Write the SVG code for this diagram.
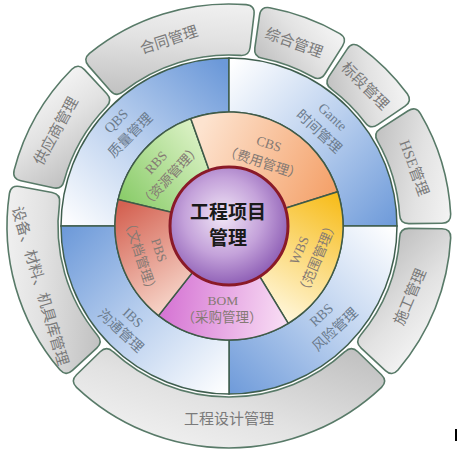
<svg xmlns="http://www.w3.org/2000/svg" width="457" height="450" viewBox="0 0 457 450">
<defs>
<linearGradient id="gGray" x1="0" y1="1" x2="1" y2="0">
<stop offset="0" stop-color="#bdbdbd"/><stop offset="0.55" stop-color="#e2e2e2"/><stop offset="1" stop-color="#f7f7f7"/>
</linearGradient>
<linearGradient id="bQ" gradientUnits="userSpaceOnUse" x1="80" y1="240" x2="230" y2="70">
<stop offset="0" stop-color="#ffffff"/><stop offset="0.5" stop-color="#b9cfee"/><stop offset="1" stop-color="#6c99d9"/>
</linearGradient>
<linearGradient id="bG" gradientUnits="userSpaceOnUse" x1="215" y1="80" x2="385" y2="240">
<stop offset="0" stop-color="#ffffff"/><stop offset="0.5" stop-color="#b9cfee"/><stop offset="1" stop-color="#6c99d9"/>
</linearGradient>
<linearGradient id="bR" gradientUnits="userSpaceOnUse" x1="380" y1="215" x2="215" y2="385">
<stop offset="0" stop-color="#ffffff"/><stop offset="0.5" stop-color="#b9cfee"/><stop offset="1" stop-color="#6c99d9"/>
</linearGradient>
<linearGradient id="bI" gradientUnits="userSpaceOnUse" x1="240" y1="380" x2="75" y2="215">
<stop offset="0" stop-color="#ffffff"/><stop offset="0.5" stop-color="#b9cfee"/><stop offset="1" stop-color="#6c99d9"/>
</linearGradient>
<linearGradient id="cGreen" gradientUnits="userSpaceOnUse" x1="125" y1="200" x2="205" y2="135">
<stop offset="0" stop-color="#8ccd6c"/><stop offset="1" stop-color="#dcf2c6"/>
</linearGradient>
<linearGradient id="cOrange" gradientUnits="userSpaceOnUse" x1="200" y1="130" x2="335" y2="195">
<stop offset="0" stop-color="#fde3cf"/><stop offset="1" stop-color="#f4a068"/>
</linearGradient>
<linearGradient id="cYellow" gradientUnits="userSpaceOnUse" x1="335" y1="190" x2="265" y2="310">
<stop offset="0" stop-color="#f7bb16"/><stop offset="1" stop-color="#fff7dc"/>
</linearGradient>
<linearGradient id="cPink" gradientUnits="userSpaceOnUse" x1="285" y1="315" x2="165" y2="300">
<stop offset="0" stop-color="#f8dcf4"/><stop offset="1" stop-color="#d676d4"/>
</linearGradient>
<linearGradient id="cRed" gradientUnits="userSpaceOnUse" x1="185" y1="300" x2="122" y2="205">
<stop offset="0" stop-color="#f7d6ca"/><stop offset="1" stop-color="#d46252"/>
</linearGradient>
<radialGradient id="cPurple" cx="0.45" cy="0.42" r="0.6">
<stop offset="0" stop-color="#f1e6f6"/><stop offset="0.55" stop-color="#c4a2da"/><stop offset="1" stop-color="#8c5cb4"/>
</radialGradient>
</defs>
<style>
.og{fill:url(#gGray);stroke:#587a68;stroke-width:1.6}
.bl{stroke:#3f5e4e;stroke-width:1.5}
.in{stroke:#3f5a48;stroke-width:1.5}
.t{font-family:"Liberation Serif","Noto Sans CJK SC",serif;text-anchor:middle}
.to{font-size:15px;fill:#7a7a7a}
.tb{font-size:14px;fill:#6c7c8e}
.ti{font-size:13.5px;fill:#857a74}
.tc{font-family:"Noto Sans CJK SC",sans-serif;font-size:19px;font-weight:bold;fill:#1a1a1a;text-anchor:middle}
</style>
<rect width="457" height="450" fill="#ffffff"/>

<g id="outer-ring">
<g id="n-hetong">
<path class="og" transform="translate(229,226) rotate(-17.25)" d="M -82.01,-206.30 A 222 222 0 0 1 82.01,-206.30 Q 90.30,-202.81 86.64,-194.59 L 73.21,-164.44 Q 69.55,-156.22 61.22,-159.66 A 171 171 0 0 0 -61.22,-159.66 Q -69.55,-156.22 -73.21,-164.44 L -86.64,-194.59 Q -90.30,-202.81 -82.01,-206.30 Z"/>
<text class="t to" transform="translate(169,40) rotate(-18)" y="5">合同管理</text>
</g>
<g id="n-zonghe">
<path class="og" transform="translate(229,226) rotate(20.25)" d="M -37.33,-218.84 A 222 222 0 0 1 37.33,-218.84 Q 46.16,-217.15 44.28,-208.35 L 37.42,-176.07 Q 35.55,-167.26 26.69,-168.90 A 171 171 0 0 0 -26.69,-168.90 Q -35.55,-167.26 -37.42,-176.07 L -44.28,-208.35 Q -46.16,-217.15 -37.33,-218.84 Z"/>
<text class="t to" transform="translate(294,43) rotate(20)" y="5">综合管理</text>
</g>
<g id="n-biaoduan">
<path class="og" transform="translate(229,226) rotate(44.75)" d="M -33.50,-219.46 A 222 222 0 0 1 33.50,-219.46 Q 42.36,-217.92 40.64,-209.09 L 34.35,-176.69 Q 32.63,-167.86 23.74,-169.34 A 171 171 0 0 0 -23.74,-169.34 Q -32.63,-167.86 -34.35,-176.69 L -40.64,-209.09 Q -42.36,-217.92 -33.50,-219.46 Z"/>
<text class="t to" transform="translate(365,86) rotate(45)" y="5">标段管理</text>
</g>
<g id="n-hse">
<path class="og" transform="translate(229,226) rotate(73.25)" d="M -52.50,-215.70 A 222 222 0 0 1 52.50,-215.70 Q 61.19,-213.40 58.71,-204.75 L 49.62,-173.03 Q 47.13,-164.38 38.41,-166.63 A 171 171 0 0 0 -38.41,-166.63 Q -47.13,-164.38 -49.62,-173.03 L -58.71,-204.75 Q -61.19,-213.40 -52.50,-215.70 Z"/>
<text class="t to" transform="translate(414,168) rotate(70)" y="5">HSE管理</text>
</g>
<g id="n-shigong">
<path class="og" transform="translate(229,226) rotate(111.75)" d="M -71.10,-210.31 A 222 222 0 0 1 71.10,-210.31 Q 79.56,-207.25 76.33,-198.85 L 64.51,-168.04 Q 61.28,-159.64 52.79,-162.65 A 171 171 0 0 0 -52.79,-162.65 Q -61.28,-159.64 -64.51,-168.04 L -76.33,-198.85 Q -79.56,-207.25 -71.10,-210.31 Z"/>
<text class="t to" transform="translate(410,297) rotate(-67)" y="5">施工管理</text>
</g>
<g id="n-sheji">
<path class="og" transform="translate(229,226) rotate(180)" d="M -152.48,-161.35 A 222 222 0 0 1 152.48,-161.35 Q 158.89,-155.05 152.44,-148.76 L 128.83,-125.72 Q 122.38,-119.43 115.92,-125.71 A 171 171 0 0 0 -115.92,-125.71 Q -122.38,-119.43 -128.83,-125.72 L -152.44,-148.76 Q -158.89,-155.05 -152.48,-161.35 Z"/>
<text class="t to" x="229" y="424">工程设计管理</text>
</g>
<g id="n-shebei">
<path class="og" transform="translate(229,226) rotate(254)" d="M -91.64,-202.20 A 222 222 0 0 1 91.64,-202.20 Q 99.75,-198.33 95.71,-190.29 L 80.88,-160.81 Q 76.83,-152.77 68.68,-156.60 A 171 171 0 0 0 -68.68,-156.60 Q -76.83,-152.77 -80.88,-160.81 L -95.71,-190.29 Q -99.75,-198.33 -91.64,-202.20 Z"/>
<text class="t to" transform="translate(40,286) rotate(73.5)" y="5">设备、材料、机具库管理</text>
</g>
<g id="n-gongying">
<path class="og" transform="translate(229,226) rotate(299.75)" d="M -58.13,-214.25 A 222 222 0 0 1 58.13,-214.25 Q 66.76,-211.73 64.05,-203.14 L 54.13,-171.67 Q 51.42,-163.09 42.76,-165.57 A 171 171 0 0 0 -42.76,-165.57 Q -51.42,-163.09 -54.13,-171.67 L -64.05,-203.14 Q -66.76,-211.73 -58.13,-214.25 Z"/>
<text class="t to" transform="translate(56,131) rotate(-61)" y="5">供应商管理</text>
</g>
</g>

<g id="blue-ring">
<g id="n-qbs">
<path class="bl" fill="url(#bQ)" d="M 61,226 A 168 168 0 0 1 229,58 L 229,112 A 114 114 0 0 0 115,226 Z"/>
<g transform="translate(123,128) rotate(-45)"><text class="t tb" y="-5">QBS</text><text class="t tb" y="15">质量管理</text></g>
</g>
<g id="n-gante">
<path class="bl" fill="url(#bG)" d="M 229,58 A 168 168 0 0 1 397,226 L 343,226 A 114 114 0 0 0 229,112 Z"/>
<g transform="translate(326,124) rotate(43)"><text class="t tb" y="-5">Gante</text><text class="t tb" y="15">时间管理</text></g>
</g>
<g id="n-rbs-risk">
<path class="bl" fill="url(#bR)" d="M 397,226 A 168 168 0 0 1 229,394 L 229,340 A 114 114 0 0 0 343,226 Z"/>
<g transform="translate(328,322) rotate(-43)"><text class="t tb" y="-5">RBS</text><text class="t tb" y="15">风险管理</text></g>
</g>
<g id="n-ibs">
<path class="bl" fill="url(#bI)" d="M 229,394 A 168 168 0 0 1 61,226 L 115,226 A 114 114 0 0 0 229,340 Z"/>
<g transform="translate(127,324) rotate(43)"><text class="t tb" y="-4">IBS</text><text class="t tb" y="14">沟通管理</text></g>
</g>
</g>

<g id="inner-ring">
<g id="n-rbs-res">
<path class="in" fill="url(#cGreen)" d="M 229,226 L 118.10,199.58 A 114 114 0 0 1 190.76,118.61 Z"/>
<g transform="translate(163,169) rotate(-47)"><text class="t ti" y="-5">RBS</text><text class="t ti" y="15">（资源管理）</text></g>
</g>
<g id="n-cbs">
<path class="in" fill="url(#cOrange)" d="M 229,226 L 190.76,118.61 A 114 114 0 0 1 337.72,191.72 Z"/>
<g transform="translate(266,153) rotate(18)"><text class="t ti" y="-5">CBS</text><text class="t ti" y="15">（费用管理）</text></g>
</g>
<g id="n-wbs">
<path class="in" fill="url(#cYellow)" d="M 229,226 L 337.72,191.72 A 114 114 0 0 1 288.23,323.41 Z"/>
<g transform="translate(308,254) rotate(-67)"><text class="t ti" y="-5">WBS</text><text class="t ti" y="15">（范围管理）</text></g>
</g>
<g id="n-bom">
<path class="in" fill="url(#cPink)" d="M 229,226 L 288.23,323.41 A 114 114 0 0 1 158.50,315.59 Z"/>
<text class="t ti" x="223" y="305">BOM</text><text class="t ti" x="222" y="322">（采购管理）</text>
</g>
<g id="n-pbs">
<path class="in" fill="url(#cRed)" d="M 229,226 L 158.50,315.59 A 114 114 0 0 1 118.10,199.58 Z"/>
<g transform="translate(150,253) rotate(72)"><text class="t ti" y="-5">PBS</text><text class="t ti" y="15">（文档管理）</text></g>
</g>
</g>

<g id="n-center">
<circle cx="229" cy="226" r="59" fill="url(#cPurple)" stroke="#8a1a28" stroke-width="3"/>
<text class="tc" x="228" y="219">工程项目</text>
<text class="tc" x="228" y="245">管理</text>
</g>

<g id="connectors"/>
<rect x="455" y="429" width="2" height="12" fill="#000000"/>
</svg>
